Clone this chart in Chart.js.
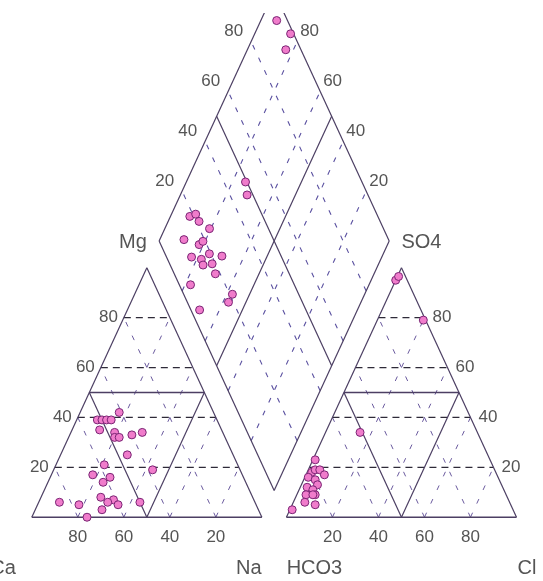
<!DOCTYPE html>
<html>
<head>
<meta charset="utf-8">
<script src="https://cdn.jsdelivr.net/npm/chart.js@4/dist/chart.umd.min.js"></script>
<style>
  html, body { margin: 0; padding: 0; background: #ffffff; }
  #wrap { width: 543px; height: 581px; position: relative; }
</style>
</head>
<body>
<div id="wrap"><canvas id="c"></canvas></div>
<script>
// ---------------- DATA ----------------
const tickValues = [20, 40, 60, 80];
const cationNames = ["Ca", "Mg", "Na"];
const anionNames = ["HCO3", "SO4", "Cl"];

// left (cation) triangle: Ca % and Mg % per sample
const cationCa = [52, 50, 48, 46, 41, 53, 47, 48, 46, 40, 35, 46, 58, 38, 65, 58, 62, 66, 61, 64, 85, 77, 68, 50, 76, 60];
const cationMg = [39, 39, 39, 39, 42, 35, 34, 32, 32, 33, 34, 25, 21, 19, 17, 16, 14, 8, 7, 6, 6, 5, 3, 6, 0, 5];

// right (anion) triangle: Cl % and SO4 % per sample
const anionCl  = [15, 1, 2, 3, 5, 8, 1.5, 5, 7, 3, 6, 8, 4, 7, 5, 10, 1, 0, 0.5, 20];
const anionSO4 = [34, 23, 18, 19, 19, 17, 16, 15, 13, 12, 11, 9, 9, 9, 6, 5, 3, 95, 96.5, 79];

// diamond: value on upper-left edge scale and on upper-right edge scale
const diamondLeft  = [18.3, 21.3, 21.3, 24.4, 11.1, 16.7, 19.0, 19.3, 24.3, 10.9, 14.7, 14.3, 18.5, 17.9, 4.9, 21.2, 17.9, 3.8, 49.4, 47.5, 95.3, 98.7, 93.4];
const diamondRight = [91.6, 89.5, 86.6, 80.6, 89.5, 81.9, 80.9, 75.6, 69.7, 82.7, 78.0, 76.1, 72.4, 69.0, 77.6, 57.5, 57.6, 68.6, 74.3, 71.0, 93.1, 84.4, 83.3];

// ---------------- GEOMETRY (data units) ----------------
const GAP = 10.67;                       // gap between the two triangles
function cat(ca, mg) { return { x: 100 - ca - mg / 2, y: mg }; }
function ani(cl, so4) { return { x: 100 + GAP + cl + so4 / 2, y: so4 }; }
function dia(t, s) { return { x: 100 + GAP / 2 + (t - s) / 2, y: GAP + s + t }; }

const OUTLINE = '#4c3f63';
const HDASH = '#2e2a38';
const DDASH = '#6a5a9e';
const DIADASH = '#5a50a0';

const datasets = [];
function seg(p, q, color, dash, width) {
  datasets.push({
    type: 'scatter', data: [p, q], showLine: true, pointRadius: 0, pointHoverRadius: 0,
    borderColor: color, borderWidth: width || 1.2, borderDash: dash || [], order: 5, fill: false
  });
}

// left triangle
seg(cat(100, 0), cat(0, 0), OUTLINE, [], 1.5);
seg(cat(0, 0), cat(0, 100), OUTLINE, [], 1.2);
seg(cat(0, 100), cat(100, 0), OUTLINE, [], 1.2);
seg(cat(50, 50), cat(0, 50), OUTLINE, [], 1.5);
seg(cat(50, 0), cat(50, 50), OUTLINE, [], 1.2);
seg(cat(50, 0), cat(0, 50), OUTLINE, [], 1.2);
tickValues.forEach(v => {
  seg(cat(100 - v, v), cat(0, v), HDASH, [7, 5], 1.3);
  seg(cat(v, 0), cat(v, 100 - v), DDASH, [5, 10], 1);
  seg(cat(100 - v, 0), cat(0, 100 - v), DDASH, [5, 10], 1);
});
// right triangle
seg(ani(0, 0), ani(100, 0), OUTLINE, [], 1.5);
seg(ani(100, 0), ani(0, 100), OUTLINE, [], 1.2);
seg(ani(0, 100), ani(0, 0), OUTLINE, [], 1.2);
seg(ani(0, 50), ani(50, 50), OUTLINE, [], 1.5);
seg(ani(50, 0), ani(0, 50), OUTLINE, [], 1.2);
seg(ani(50, 0), ani(50, 50), OUTLINE, [], 1.2);
tickValues.forEach(v => {
  seg(ani(0, v), ani(100 - v, v), HDASH, [7, 5], 1.3);
  seg(ani(v, 0), ani(v, 100 - v), DDASH, [5, 10], 1);
  seg(ani(100 - v, 0), ani(0, 100 - v), DDASH, [5, 10], 1);
});
// diamond
seg(dia(0, 0), dia(0, 100), OUTLINE, [], 1.2);
seg(dia(0, 100), dia(100, 100), OUTLINE, [], 1.2);
seg(dia(100, 100), dia(100, 0), OUTLINE, [], 1.2);
seg(dia(100, 0), dia(0, 0), OUTLINE, [], 1.2);
seg(dia(50, 0), dia(50, 100), OUTLINE, [], 1.2);
seg(dia(0, 50), dia(100, 50), OUTLINE, [], 1.2);
tickValues.forEach(v => {
  seg(dia(v, 0), dia(v, 100), DIADASH, [5, 9], 1.1);
  seg(dia(0, v), dia(100, v), DIADASH, [5, 9], 1.1);
});

const pointStyle = {
  type: 'scatter', showLine: false, pointRadius: 4, pointHoverRadius: 4,
  pointBackgroundColor: '#f07ccb', pointBorderColor: '#7a2474', pointBorderWidth: 1, order: 0
};
datasets.push(Object.assign({}, pointStyle, { data: cationCa.map((c, i) => cat(c, cationMg[i])) }));
datasets.push(Object.assign({}, pointStyle, { data: anionCl.map((c, i) => ani(c, anionSO4[i])) }));
datasets.push(Object.assign({}, pointStyle, { data: diamondLeft.map((t, i) => dia(t, diamondRight[i])) }));

// ---------------- LABELS ----------------
const NUM_FONT = '17px "Liberation Sans", Arial, sans-serif';
const NAME_FONT = '20px "Liberation Sans", Arial, sans-serif';
const TEXT_COLOR = '#555555';

const labelPlugin = {
  id: 'piperLabels',
  afterDraw(chart) {
    const ctx = chart.ctx, xs = chart.scales.x, ys = chart.scales.y;
    const P = p => [xs.getPixelForValue(p.x), ys.getPixelForValue(p.y)];
    function txt(s, p, dx, dy, align, font) {
      const [px, py] = P(p);
      ctx.font = font; ctx.fillStyle = TEXT_COLOR;
      ctx.textAlign = align; ctx.textBaseline = 'middle';
      ctx.fillText(s, px + dx, py + dy);
    }
    ctx.save();
    tickValues.forEach(v => {
      txt(String(v), cat(100 - v, v), -6, 0, 'right', NUM_FONT);     // Mg
      txt(String(v), cat(v, 0), 0, 20, 'center', NUM_FONT);          // Ca
      txt(String(v), ani(100 - v, v), 8, 0, 'left', NUM_FONT);       // SO4
      txt(String(v), ani(v, 0), 0, 20, 'center', NUM_FONT);          // Cl
      txt(String(v), dia(v, 100), -8, -10, 'right', NUM_FONT);       // diamond upper-left
      txt(String(v), dia(100, v), 3, -10, 'left', NUM_FONT);         // diamond upper-right
    });
    txt(cationNames[1], cat(0, 100), 0, -25, 'right', NAME_FONT);
    txt(anionNames[1], ani(0, 100), 0, -25, 'left', NAME_FONT);
    txt(cationNames[0], cat(100, 0), -16, 51, 'right', NAME_FONT);
    txt(cationNames[2], cat(0, 0), -13, 51, 'center', NAME_FONT);
    txt(anionNames[0], ani(0, 0), 28, 51, 'center', NAME_FONT);
    txt(anionNames[2], ani(100, 0), 1, 51, 'left', NAME_FONT);
    ctx.restore();
  }
};

new Chart(document.getElementById('c'), {
  type: 'scatter',
  data: { datasets },
  options: {
    responsive: true, maintainAspectRatio: false, animation: false,
    layout: { padding: { top: 13, left: 0, right: 0, bottom: 0 } },
    plugins: { legend: { display: false }, tooltip: { enabled: false } },
    scales: {
      x: { type: 'linear', display: false, min: -11.647, max: 220.01 },
      y: { type: 'linear', display: false, min: -23.56, max: 202.1 }
    }
  },
  plugins: [labelPlugin]
});
</script>
</body>
</html>
